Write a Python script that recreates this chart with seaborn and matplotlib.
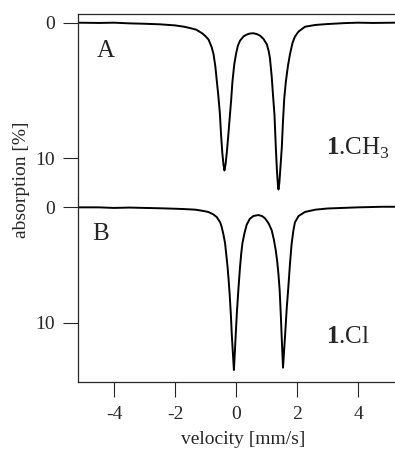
import pandas as pd
import seaborn as sns
import matplotlib.pyplot as plt

# spectrum A (1.CH3): velocity [mm/s] and absorption [%]
vel_a = [-5.2, -4.5, -4.0, -3.5, -3.0, -2.5, -2.0, -1.7, -1.5, -1.3, -1.1, -1.0,
         -0.9, -0.8, -0.74, -0.68, -0.63, -0.58, -0.53, -0.49, -0.45, -0.41, -0.38,
         -0.34, -0.30, -0.25, -0.20, -0.16, -0.12, -0.06, 0.0, 0.06, 0.13, 0.25,
         0.35, 0.45, 0.57, 0.68, 0.79, 0.90, 1.01, 1.07, 1.11, 1.17, 1.21, 1.26,
         1.30, 1.34, 1.37, 1.39, 1.42, 1.46, 1.50, 1.54, 1.58, 1.63, 1.70, 1.77,
         1.85, 1.93, 2.05, 2.26, 2.59, 3.0, 3.57, 4.0, 4.5, 5.2]
abs_a = [0.0, 0.02, 0.0, 0.05, 0.08, 0.12, 0.2, 0.3, 0.4, 0.52, 0.8, 1.0,
         1.25, 1.8, 2.3, 3.2, 4.3, 5.4, 6.7, 8.3, 9.6, 10.5, 10.9,
         10.4, 9.5, 8.2, 6.8, 5.7, 4.4, 3.1, 2.3, 1.7, 1.33, 1.0,
         0.88, 0.8, 0.78, 0.84, 0.96, 1.2, 1.6, 2.1, 2.6, 4.0, 5.3, 6.8,
         9.0, 10.9, 11.9, 12.3, 11.8, 10.5, 9.2, 7.2, 5.6, 4.4, 3.2, 2.3,
         1.5, 1.03, 0.65, 0.3, 0.17, 0.1, 0.03, 0.0, 0.02, 0.0]

# spectrum B (1.Cl)
vel_b = [-5.2, -4.5, -4.0, -3.5, -3.0, -2.5, -2.0, -1.7, -1.34, -1.1, -0.91, -0.75,
         -0.63, -0.52, -0.47, -0.41, -0.36, -0.32, -0.28, -0.24, -0.21, -0.17, -0.14,
         -0.10, -0.07, -0.04, -0.01, 0.03, 0.08, 0.13, 0.17, 0.21, 0.28, 0.35, 0.45,
         0.57, 0.73, 0.85, 0.95, 1.07, 1.17, 1.24, 1.30, 1.35, 1.39, 1.43, 1.47,
         1.50, 1.54, 1.58, 1.61, 1.66, 1.72, 1.77, 1.82, 1.88, 1.93, 2.05, 2.26,
         2.6, 3.0, 3.5, 4.0, 4.8, 5.2]
abs_b = [0.0, 0.0, 0.05, 0.02, 0.05, 0.08, 0.12, 0.15, 0.2, 0.3, 0.4, 0.6,
         0.85, 1.3, 1.7, 2.4, 3.1, 4.1, 5.1, 6.4, 7.5, 9.3, 11.0,
         12.8, 14.1, 12.6, 11.0, 9.0, 7.0, 5.2, 4.0, 3.1, 2.2, 1.5, 1.0,
         0.75, 0.67, 0.75, 0.95, 1.4, 2.0, 2.8, 3.7, 4.7, 5.8, 7.2, 9.5,
         11.5, 13.9, 12.2, 11.0, 8.8, 6.7, 4.8, 3.2, 2.0, 1.3, 0.75, 0.4,
         0.2, 0.1, 0.05, 0.0, -0.05, -0.05]

x_ticks = [-4, -2, 0, 2, 4]
y_ticks = [0, 10]
panel_names = ["A", "B"]
compounds = [r"$\mathbf{1}$.CH$_3$", r"$\mathbf{1}$.Cl"]

sns.set_style("ticks")
plt.rcParams['font.family'] = ['Liberation Serif', 'DejaVu Serif']
plt.rcParams['mathtext.fontset'] = 'custom'
plt.rcParams['mathtext.rm'] = 'Liberation Serif'
plt.rcParams['mathtext.bf'] = 'Liberation Serif:bold'
plt.rcParams['axes.unicode_minus'] = False

W, H = 395, 454
fig = plt.figure(figsize=(W / 100, H / 100), dpi=100)
ax_a = fig.add_axes([78 / W, (H - 198) / H, 317 / W, 184 / H])
ax_b = fig.add_axes([78 / W, (H - 382) / H, 317 / W, 184 / H], sharex=ax_a)

df_a = pd.DataFrame({'velocity': vel_a, 'absorption': abs_a})
df_b = pd.DataFrame({'velocity': vel_b, 'absorption': abs_b})
sns.lineplot(data=df_a, x='velocity', y='absorption', ax=ax_a, color='black', lw=1.4)
sns.lineplot(data=df_b, x='velocity', y='absorption', ax=ax_b, color='black', lw=1.4)

ax_a.set_xlim(-5.18, 5.21)
ax_a.set_ylim(12.93, -0.64)
ax_b.set_ylim(15.14, -0.81)

for ax in (ax_a, ax_b):
    ax.set_xlabel('')
    ax.set_ylabel('')
    ax.set_yticks(y_ticks)
    ax.tick_params(axis='y', length=10.5, width=0.8, pad=6, labelsize=14)
    ax.spines['right'].set_visible(False)
    for s in ax.spines.values():
        s.set_linewidth(0.9)

ax_a.spines['bottom'].set_visible(False)
ax_a.tick_params(axis='x', bottom=False, labelbottom=False)
ax_b.spines['top'].set_visible(False)
ax_b.set_xticks(x_ticks)
ax_b.tick_params(axis='x', length=10.5, width=0.8, pad=7, labelsize=14)

# panel letters and compound names
fig.text(106 / W, 1 - 51 / H, panel_names[0], ha='center', va='center', fontsize=18)
fig.text(101 / W, 1 - 234 / H, panel_names[1], ha='center', va='center', fontsize=18)
fig.text(326 / W, 1 - 155 / H, compounds[0], ha='left', va='baseline', fontsize=18)
fig.text(326 / W, 1 - 343 / H, compounds[1], ha='left', va='baseline', fontsize=18)

fig.text(22 / W, 1 - 180 / H, 'absorption [%]', rotation=90, ha='center', va='center', fontsize=14)
fig.text(243 / W, 1 - 439 / H, 'velocity [mm/s]', ha='center', va='center', fontsize=14)

fig.savefig('out.png', dpi=100)
